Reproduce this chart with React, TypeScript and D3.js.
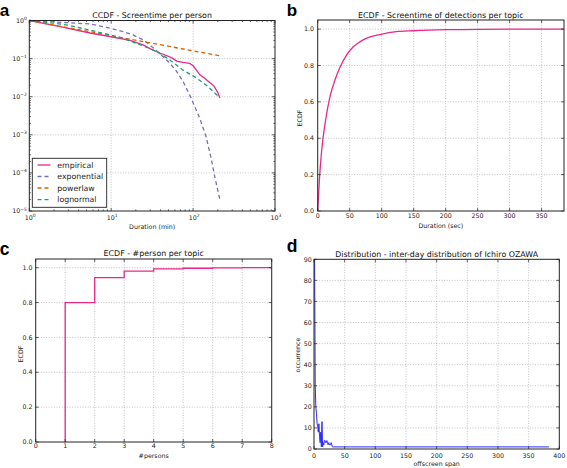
import React from "react";
import * as d3 from "d3";

// ---------- Panel a: CCDF - Screentime per person (log-log) ----------
const empiricalX = [1, 2, 3, 5.5, 9.6, 17, 24.5, 31, 40, 50, 57, 63, 75, 91, 100, 110, 120, 140, 158, 180, 200, 212];
const empiricalY = [1, 0.74, 0.62, 0.47, 0.38, 0.3, 0.228, 0.175, 0.138, 0.115, 0.1, 0.086, 0.08, 0.075, 0.065, 0.05, 0.038, 0.03, 0.024, 0.019, 0.013, 0.0093];
const exponentialX = [1, 2.86, 5.5, 8.8, 14, 18.5, 24.6, 29.6, 35.8, 43, 52, 63, 75.5, 91, 120, 145, 167.5, 184, 212];
const exponentialY = [1, 0.88, 0.81, 0.66, 0.51, 0.417, 0.31, 0.227, 0.161, 0.112, 0.076, 0.046, 0.025, 0.011, 0.0028, 0.00086, 0.00022, 0.000079, 0.00002];
const powerlawX = [1, 10, 100, 212];
const powerlawY = [1, 0.4, 0.16, 0.119];
const lognormalX = [1, 2, 3, 5.5, 9.6, 14, 20.4, 29.6, 39, 52, 75, 110, 150, 180, 212];
const lognormalY = [1, 0.85, 0.75, 0.56, 0.42, 0.34, 0.25, 0.186, 0.138, 0.092, 0.05, 0.031, 0.019, 0.013, 0.0095];
const seriesNames = ["empirical", "exponential", "powerlaw", "lognormal"];
const seriesColors = ["#e7298a", "#7570b3", "#d95f02", "#1b9e77"];
const logTickExps = [0, 1, 2, 3];
const logYTickExps = [0, -1, -2, -3, -4, -5];

// ---------- Panel b: ECDF - Screentime of detections per topic ----------
const durationSec = [0, 2.6, 6.25, 11.5, 19.3, 27, 34.9, 45.3, 55.7, 66, 76.6, 97.4, 123, 149.5, 201.6, 253.6, 385];
const durationEcdf = [0, 0.17, 0.335, 0.48, 0.63, 0.72, 0.79, 0.858, 0.903, 0.93, 0.95, 0.97, 0.986, 0.991, 0.997, 0.999, 1.0];
const bXTicks = [0, 50, 100, 150, 200, 250, 300, 350];
const ecdfTicks = [0, 0.2, 0.4, 0.6, 0.8, 1.0];

// ---------- Panel c: ECDF - #person per topic ----------
const personsX = [1, 1, 2, 3, 4, 5, 6, 7, 8];
const personsEcdf = [0, 0.8, 0.943, 0.981, 0.993, 0.997, 0.999, 1.0, 1.0];
const cXTicks = [0, 1, 2, 3, 4, 5, 6, 7, 8];

// ---------- Panel d: inter-day distribution of Ichiro OZAWA ----------
const spanX = [1, 2, 3, 4, 5, 6, 7, 8, 9, 10, 11, 12, 13, 14, 15, 16, 17, 18, 19, 20, 21, 22, 23, 24, 25, 26, 27, 28, 29, 30, 31, 60, 100, 150, 200, 250, 300, 350, 383];
const spanCount = [90, 30, 20, 17, 12, 11, 8, 12, 6, 3, 8, 1, 13, 1, 3, 2, 4, 4, 3, 3, 4, 3, 2, 3, 2, 2, 2, 3, 2, 1, 1, 1, 1, 1, 1, 1, 1, 1, 1];
const dXTicks = [0, 50, 100, 150, 200, 250, 300, 350, 400];
const dYTicks = [0, 10, 20, 30, 40, 50, 60, 70, 80, 90];

const FONT = "'DejaVu Sans', sans-serif";
const BOLD = "'Liberation Sans', Arial, sans-serif";
const TICK_FS = 6.3;
const TITLE_FS = 7.9;

type Box = { l: number; r: number; t: number; b: number };

const boxA: Box = { l: 29.3, r: 275, t: 20.5, b: 211 };
const boxB: Box = { l: 317.7, r: 564, t: 20, b: 211 };
const boxC: Box = { l: 35.7, r: 271.7, t: 259, b: 442 };
const boxD: Box = { l: 314, r: 559.3, t: 259.3, b: 449 };

function Grid({ xs, ys, box }: { xs: number[]; ys: number[]; box: Box }) {
  return (
    <g stroke="#9a9a9a" strokeWidth={0.6} strokeDasharray="1,1.6" fill="none">
      {xs.map((x, i) => (
        <line key={"gx" + i} x1={x} x2={x} y1={box.t} y2={box.b} />
      ))}
      {ys.map((y, i) => (
        <line key={"gy" + i} x1={box.l} x2={box.r} y1={y} y2={y} />
      ))}
    </g>
  );
}

function Ticks({ xs, ys, box, len }: { xs: number[]; ys: number[]; box: Box; len: number }) {
  return (
    <g stroke="#222" strokeWidth={0.7}>
      {xs.map((x, i) => (
        <g key={"tx" + i}>
          <line x1={x} x2={x} y1={box.b} y2={box.b - len} />
          <line x1={x} x2={x} y1={box.t} y2={box.t + len} />
        </g>
      ))}
      {ys.map((y, i) => (
        <g key={"ty" + i}>
          <line x1={box.l} x2={box.l + len} y1={y} y2={y} />
          <line x1={box.r} x2={box.r - len} y1={y} y2={y} />
        </g>
      ))}
    </g>
  );
}

function Frame({ box }: { box: Box }) {
  return <rect x={box.l} y={box.t} width={box.r - box.l} height={box.b - box.t} fill="none" stroke="#222" strokeWidth={1} />;
}

function supText(e: number) {
  return e < 0 ? "\u2212" + Math.abs(e) : String(e);
}

function PanelA() {
  const x = d3.scaleLog().domain([1, 1000]).range([boxA.l, boxA.r]);
  const y = d3.scaleLog().domain([1e-5, 1]).range([boxA.b, boxA.t]);
  const line = d3
    .line<[number, number]>()
    .x((d) => x(d[0]))
    .y((d) => y(d[1]));
  const zip = (a: number[], b: number[]) => a.map((v, i) => [v, b[i]] as [number, number]);
  const series = [
    zip(empiricalX, empiricalY),
    zip(exponentialX, exponentialY),
    zip(powerlawX, powerlawY),
    zip(lognormalX, lognormalY),
  ];
  const minorX: number[] = [];
  for (let e = 0; e < 3; e++) for (let m = 2; m <= 9; m++) minorX.push(x(m * Math.pow(10, e)));
  const minorY: number[] = [];
  for (let e = -5; e < 0; e++) for (let m = 2; m <= 9; m++) minorY.push(y(m * Math.pow(10, e)));
  const majorX = logTickExps.map((e) => x(Math.pow(10, e)));
  const majorY = logYTickExps.map((e) => y(Math.pow(10, e)));
  const legY = [165, 176.5, 188, 199.7];
  return (
    <g>
      <Grid xs={majorX.slice(1, -1)} ys={majorY.slice(1, -1)} box={boxA} />
      {series.map((s, i) => (
        <path
          key={i}
          d={line(s) || ""}
          fill="none"
          stroke={seriesColors[i]}
          strokeWidth={1.3}
          strokeDasharray={i === 0 ? undefined : "4,3"}
        />
      ))}
      <Ticks xs={majorX} ys={majorY} box={boxA} len={3} />
      <Ticks xs={minorX} ys={minorY} box={boxA} len={1.6} />
      <Frame box={boxA} />
      {logTickExps.map((e) => (
        <text key={"xl" + e} x={x(Math.pow(10, e)) + 1} y={220} fontSize={TICK_FS} textAnchor="middle" fontFamily={FONT} fill="#222">
          <tspan>10</tspan>
          <tspan dy={-2.8} fontSize={4.5}>{supText(e)}</tspan>
        </text>
      ))}
      {logYTickExps.map((e) => (
        <text key={"yl" + e} x={26.8} y={y(Math.pow(10, e)) + 2.3} fontSize={TICK_FS} textAnchor="end" fontFamily={FONT} fill="#222">
          <tspan>10</tspan>
          <tspan dy={-2.8} fontSize={4.5}>{supText(e)}</tspan>
        </text>
      ))}
      <text x={(boxA.l + boxA.r) / 2} y={228.5} fontSize={TICK_FS} textAnchor="middle" fontFamily={FONT} fill="#222">
        Duration (min)
      </text>
      <text x={(boxA.l + boxA.r) / 2} y={18.3} fontSize={TITLE_FS} textAnchor="middle" fontFamily={FONT} fill="#111">
        CCDF - Screentime per person
      </text>
      <g>
        <rect x={32.3} y={158.3} width={74.4} height={49} fill="#fff" stroke="#222" strokeWidth={0.9} />
        {seriesNames.map((n, i) => (
          <g key={n}>
            <line
              x1={37.5}
              x2={50.5}
              y1={legY[i]}
              y2={legY[i]}
              stroke={seriesColors[i]}
              strokeWidth={1.3}
              strokeDasharray={i === 0 ? undefined : "4,3"}
            />
            <text x={57.3} y={legY[i] + 2.6} fontSize={7.8} fontFamily={FONT} fill="#222">
              {n}
            </text>
          </g>
        ))}
      </g>
    </g>
  );
}

function PanelB() {
  const x = d3.scaleLinear().domain([0, 385]).range([boxB.l, boxB.r]);
  const y = d3.scaleLinear().domain([0, 1.05]).range([boxB.b, boxB.t]);
  const line = d3
    .line<number>()
    .x((_, i) => x(durationSec[i]))
    .y((d) => y(d))
    .curve(d3.curveMonotoneX);
  return (
    <g>
      <Grid xs={bXTicks.slice(1).map(x)} ys={ecdfTicks.slice(1).map(y)} box={boxB} />
      <path d={line(durationEcdf) || ""} fill="none" stroke="#e7298a" strokeWidth={1.3} />
      <Ticks xs={bXTicks.map(x)} ys={ecdfTicks.map(y)} box={boxB} len={3} />
      <Frame box={boxB} />
      {bXTicks.map((t) => (
        <text key={t} x={x(t)} y={218} fontSize={TICK_FS} textAnchor="middle" fontFamily={FONT} fill="#222">
          {t}
        </text>
      ))}
      {ecdfTicks.map((t) => (
        <text key={t} x={314} y={y(t) + 2.2} fontSize={TICK_FS} textAnchor="end" fontFamily={FONT} fill="#222">
          {t.toFixed(1)}
        </text>
      ))}
      <text x={(boxB.l + boxB.r) / 2} y={227.5} fontSize={TICK_FS} textAnchor="middle" fontFamily={FONT} fill="#222">
        Duration (sec)
      </text>
      <text transform="translate(302.2,118) rotate(-90)" fontSize={TICK_FS} textAnchor="middle" fontFamily={FONT} fill="#222">
        ECDF
      </text>
      <text x={(boxB.l + boxB.r) / 2} y={18} fontSize={TITLE_FS} textAnchor="middle" fontFamily={FONT} fill="#111">
        ECDF - Screentime of detections per topic
      </text>
    </g>
  );
}

function PanelC() {
  const x = d3.scaleLinear().domain([0, 8]).range([boxC.l, boxC.r]);
  const y = d3.scaleLinear().domain([0, 1.05]).range([boxC.b, boxC.t]);
  const line = d3
    .line<number>()
    .x((_, i) => x(personsX[i]))
    .y((d) => y(d))
    .curve(d3.curveStepAfter);
  return (
    <g>
      <Grid xs={cXTicks.slice(1, -1).map(x)} ys={ecdfTicks.slice(1).map(y)} box={boxC} />
      <path d={line(personsEcdf) || ""} fill="none" stroke="#e7298a" strokeWidth={1.3} />
      <Ticks xs={cXTicks.map(x)} ys={ecdfTicks.map(y)} box={boxC} len={3} />
      <Frame box={boxC} />
      {cXTicks.map((t) => (
        <text key={t} x={x(t)} y={447.8} fontSize={TICK_FS} textAnchor="middle" fontFamily={FONT} fill="#222">
          {t}
        </text>
      ))}
      {ecdfTicks.map((t) => (
        <text key={t} x={32.5} y={y(t) + 2.2} fontSize={TICK_FS} textAnchor="end" fontFamily={FONT} fill="#222">
          {t.toFixed(1)}
        </text>
      ))}
      <text x={(boxC.l + boxC.r) / 2} y={458} fontSize={TICK_FS} textAnchor="middle" fontFamily={FONT} fill="#222">
        #persons
      </text>
      <text transform="translate(22.9,354) rotate(-90)" fontSize={TICK_FS} textAnchor="middle" fontFamily={FONT} fill="#222">
        ECDF
      </text>
      <text x={(boxC.l + boxC.r) / 2} y={256.3} fontSize={TITLE_FS} textAnchor="middle" fontFamily={FONT} fill="#111">
        ECDF - #person per topic
      </text>
    </g>
  );
}

function PanelD() {
  const x = d3.scaleLinear().domain([0, 400]).range([boxD.l, boxD.r]);
  const y = d3.scaleLinear().domain([0, 90]).range([boxD.b, boxD.t]);
  const line = d3
    .line<number>()
    .x((_, i) => x(spanX[i]))
    .y((d) => y(d));
  return (
    <g>
      <Grid xs={dXTicks.slice(1, -1).map(x)} ys={dYTicks.slice(1, -1).map(y)} box={boxD} />
      <path d={line(spanCount) || ""} fill="none" stroke="#2a2aff" strokeWidth={1} />
      <Ticks xs={dXTicks.map(x)} ys={dYTicks.map(y)} box={boxD} len={3} />
      <Frame box={boxD} />
      {dXTicks.map((t) => (
        <text key={t} x={x(t)} y={457.6} fontSize={TICK_FS} textAnchor="middle" fontFamily={FONT} fill="#222">
          {t}
        </text>
      ))}
      {dYTicks.map((t) => (
        <text key={t} x={311.8} y={y(t) + 2.2} fontSize={TICK_FS} textAnchor="end" fontFamily={FONT} fill="#222">
          {t}
        </text>
      ))}
      <text x={(boxD.l + boxD.r) / 2} y={466.3} fontSize={TICK_FS} textAnchor="middle" fontFamily={FONT} fill="#222">
        offscreen span
      </text>
      <text transform="translate(300,355) rotate(-90)" fontSize={TICK_FS} textAnchor="middle" fontFamily={FONT} fill="#222">
        occurrence
      </text>
      <text x={(boxD.l + boxD.r) / 2} y={257} fontSize={TITLE_FS} textAnchor="middle" fontFamily={FONT} fill="#111">
        Distribution - inter-day distribution of Ichiro OZAWA
      </text>
    </g>
  );
}

export default function App() {
  return (
    <svg
      width={567}
      height={468}
      viewBox="0 0 567 468"
      style={{ position: "absolute", left: 0, top: 0, background: "#fff" }}
    >
      <rect x={0} y={0} width={567} height={468} fill="#fff" />
      <PanelA />
      <PanelB />
      <PanelC />
      <PanelD />
      <text x={-0.2} y={15.5} fontSize={17} fontWeight="bold" fontFamily={BOLD} fill="#000">a</text>
      <text x={286.8} y={15.5} fontSize={17} fontWeight="bold" fontFamily={BOLD} fill="#000">b</text>
      <text x={-0.2} y={255} fontSize={17.5} fontWeight="bold" fontFamily={BOLD} fill="#000">c</text>
      <text x={286.8} y={252} fontSize={17.5} fontWeight="bold" fontFamily={BOLD} fill="#000">d</text>
    </svg>
  );
}
